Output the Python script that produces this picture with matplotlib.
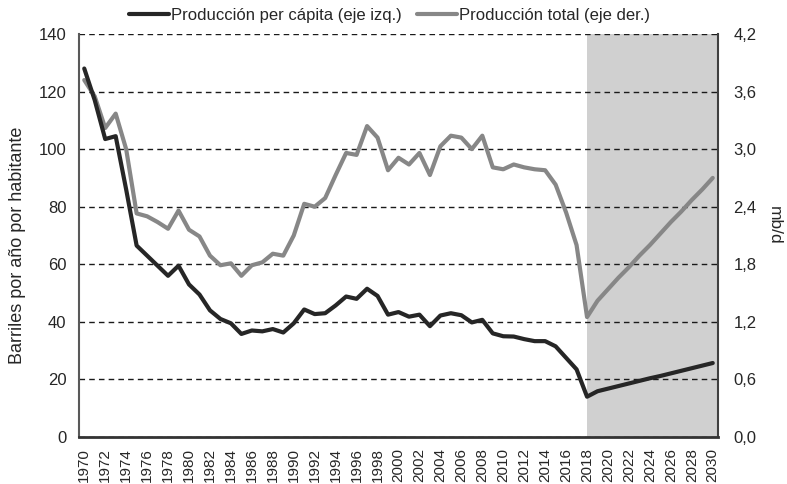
import numpy as np
import matplotlib
matplotlib.use('Agg')
import matplotlib.pyplot as plt
from matplotlib.ticker import FuncFormatter

plt.rcParams['font.family'] = ['Liberation Sans', 'DejaVu Sans']

years = np.arange(1970, 2031)

# barriles por año por habitante (eje izq.)
per_capita = [128, 117, 103.5, 104.5, 86, 66.5, 63, 59.5, 56, 59.5,
              53, 49.5, 44, 41, 39.5, 35.8, 37, 36.7, 37.5, 36.3,
              39.5, 44.3, 42.7, 43, 45.7, 48.8, 48, 51.5, 49, 42.5,
              43.4, 41.8, 42.5, 38.5, 42.2, 43, 42.3, 39.8, 40.7, 36,
              35, 34.9, 34, 33.3, 33.3, 31.5, 27.5, 23.5, 14, 15.9,
              16.8, 17.7, 18.6, 19.5, 20.4, 21.2, 22.1, 23.0, 23.9, 24.8,
              25.7]

# millones de barriles diarios (eje der.)
total = [3.72, 3.55, 3.22, 3.37, 3.00, 2.33, 2.30, 2.24, 2.17, 2.36,
         2.16, 2.09, 1.89, 1.79, 1.81, 1.68, 1.79, 1.82, 1.91, 1.89,
         2.10, 2.43, 2.40, 2.49, 2.73, 2.96, 2.94, 3.24, 3.12, 2.78,
         2.91, 2.84, 2.96, 2.73, 3.03, 3.14, 3.12, 3.00, 3.14, 2.81,
         2.79, 2.84, 2.81, 2.79, 2.78, 2.63, 2.34, 2.00, 1.25, 1.42,
         1.54, 1.66, 1.77, 1.89, 2.00, 2.12, 2.24, 2.35, 2.47, 2.58,
         2.70]

proj_start = 2018

txt = '#262626'

fig = plt.figure(figsize=(7.87, 4.84), dpi=100)
ax = fig.add_axes([0.1004, 0.0971, 0.8119, 0.8327])
ax2 = ax.twinx()

# ax (linea negra) encima de ax2
ax.set_zorder(ax2.get_zorder() + 1)
ax.patch.set_visible(False)

ax2.axvspan(proj_start, 2030.5, color='#d0d0d0', lw=0, zorder=0)
ax2.plot(years, total, color='#878787', lw=3, solid_joinstyle='round',
         solid_capstyle='round', zorder=3, label='Producción total (eje der.)')
ax.plot(years, per_capita, color='#262626', lw=3, solid_joinstyle='round',
        solid_capstyle='round', zorder=3, label='Producción per cápita (eje izq.)')

ax.set_xlim(1969.5, 2030.5)
ax.set_ylim(0, 140)
ax2.set_ylim(0, 4.2)
ax.set_yticks(np.arange(0, 141, 20))
ax2.set_yticks(np.arange(0, 4.21, 0.6))
ax2.yaxis.set_major_formatter(FuncFormatter(lambda v, p: f'{v:.1f}'.replace('.', ',')))
ax2.grid(axis='y', color='#1a1a1a', ls=(0, (4, 3)), lw=1.0)
ax2.set_axisbelow(True)

ax.set_xticks(years[::2])
ax.set_xticklabels([str(y) for y in years[::2]], rotation=90)

ax.tick_params(axis='y', length=0, labelsize=12, colors=txt, pad=9)
ax2.tick_params(axis='y', length=0, labelsize=12, colors=txt, pad=11)
ax.tick_params(axis='x', length=0, labelsize=11, colors=txt, pad=8)

for s in ['top', 'right']:
    ax.spines[s].set_visible(False)
for s in ['top', 'left', 'bottom']:
    ax2.spines[s].set_visible(False)
ax.spines['left'].set_color('#595959')
ax.spines['left'].set_linewidth(1.5)
ax.spines['bottom'].set_color('#333333')
ax.spines['bottom'].set_linewidth(2)
ax2.spines['right'].set_color('#404040')
ax2.spines['right'].set_linewidth(1.5)

ax.set_ylabel('Barriles por año por habitante', fontsize=13, color=txt, va='center')
ax.yaxis.set_label_coords(-0.097, 0.475)
ax2.set_ylabel('mb/d', fontsize=12.5, color=txt, rotation=270, va='center')
ax2.yaxis.set_label_coords(1.088, 0.526)

h1, l1 = ax.get_legend_handles_labels()
h2, l2 = ax2.get_legend_handles_labels()
fig.legend(h1 + h2, l1 + l2, loc='upper center', bbox_to_anchor=(0.495, 1.015),
           ncol=2, frameon=False, fontsize=12, handlelength=2.4,
           handletextpad=0.15, columnspacing=0.9, labelcolor=txt)

fig.savefig('out.png', dpi=100)
